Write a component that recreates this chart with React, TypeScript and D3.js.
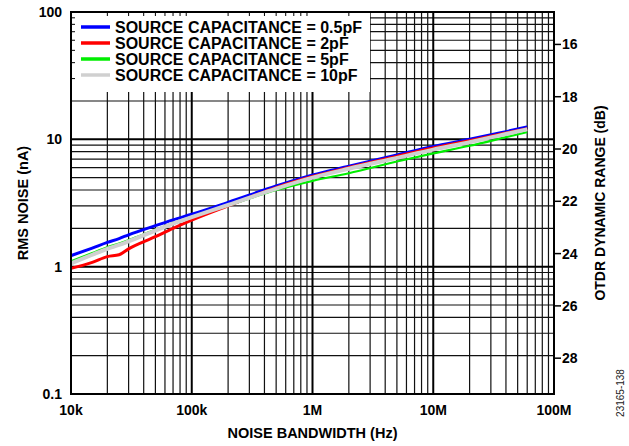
import * as d3 from "d3";

const freqs = [1e4, 1.5e4, 2e4, 2.5e4, 3e4, 5e4, 7e4, 1e5, 2e5, 5e5, 1e6, 2e6, 5e6, 1e7, 2e7, 4e7, 6e7];
const blue = [1.22, 1.4, 1.55, 1.66, 1.78, 2.1, 2.33, 2.58, 3.2, 4.3, 5.25, 6.15, 7.55, 8.8, 10.0, 11.5, 12.5];
const red = [0.97, 1.08, 1.2, 1.24, 1.38, 1.72, 2.0, 2.32, 3.0, 4.18, 5.1, 6.0, 7.35, 8.55, 9.75, 11.2, 12.1];
const green = [1.1, 1.28, 1.42, 1.52, 1.62, 1.95, 2.2, 2.46, 3.02, 4.0, 4.72, 5.42, 6.7, 7.75, 8.9, 10.4, 11.4];
const gray = [1.06, 1.24, 1.38, 1.48, 1.58, 1.92, 2.18, 2.45, 3.05, 4.1, 5.0, 5.88, 7.15, 8.3, 9.5, 11.0, 12.0];

const seriesNames = [
  "SOURCE CAPACITANCE = 0.5pF",
  "SOURCE CAPACITANCE = 2pF",
  "SOURCE CAPACITANCE = 5pF",
  "SOURCE CAPACITANCE = 10pF",
];
const seriesColors = ["#0000ff", "#ff0000", "#00ee00", "#d0d0d0"];
const seriesWidths = [3, 3, 2.2, 4];

const xTicks = [1e4, 1e5, 1e6, 1e7, 1e8];
const xTickLabels = ["10k", "100k", "1M", "10M", "100M"];
const yTicks = [0.1, 1, 10, 100];
const yTickLabels = ["0.1", "1", "10", "100"];
const dbTicks = [16, 18, 20, 22, 24, 26, 28];

const W = 629;
const H = 446;
const left = 71;
const right = 554;
const top = 12;
const bottom = 394;
const font = "'Liberation Sans', Arial, sans-serif";

export default function App() {
  const x = d3.scaleLog().domain([1e4, 1e8]).range([left, right]);
  const y = d3.scaleLog().domain([0.1, 100]).range([bottom, top]);
  const yDb = d3.scaleLinear().domain([14.76, 29.37]).range([top, bottom]);

  const minorX: number[] = [];
  const minorY: number[] = [];
  for (let d = 1e4; d < 1e8; d *= 10) for (let k = 2; k <= 9; k++) minorX.push(d * k);
  for (let d = 0.1; d < 99; d *= 10) for (let k = 2; k <= 9; k++) minorY.push(d * k);

  const line = d3
    .line<number>()
    .x((_, i) => x(freqs[i]))
    .y((v) => y(v))
    .curve(d3.curveMonotoneX);
  const all = [blue, red, green, gray];

  const legTop = 27;
  const legStep = 16;
  const legW = 298;
  const legH = 79;

  return (
    <svg width={W} height={H} style={{ position: "absolute", left: 0, top: 0 }} fontFamily={font}>
      <rect width={W} height={H} fill="#fff" />
      {/* grid */}
      {minorX.map((v) => (
        <line key={"mx" + v} x1={x(v)} x2={x(v)} y1={top} y2={bottom} stroke="#111" strokeWidth={1.2} />
      ))}
      {minorY.map((v) => (
        <line key={"my" + v} x1={left} x2={right} y1={y(v)} y2={y(v)} stroke="#111" strokeWidth={1.2} />
      ))}
      {xTicks.map((v) => (
        <line key={"Mx" + v} x1={x(v)} x2={x(v)} y1={top} y2={bottom} stroke="#000" strokeWidth={2} />
      ))}
      {yTicks.map((v) => (
        <line key={"My" + v} x1={left} x2={right} y1={y(v)} y2={y(v)} stroke="#000" strokeWidth={2} />
      ))}
      {/* legend background */}
      <rect x={left + 1} y={top + 1} width={legW} height={legH} fill="#fff" />
      {minorX
        .filter((v) => x(v) < left + legW)
        .map((v) => (
          <line key={"tx" + v} x1={x(v)} x2={x(v)} y1={top} y2={top + 4} stroke="#000" strokeWidth={1} />
        ))}
      {minorY
        .filter((v) => y(v) < top + legH)
        .map((v) => (
          <line key={"ty" + v} x1={left} x2={left + 4} y1={y(v)} y2={y(v)} stroke="#000" strokeWidth={1} />
        ))}
      {/* curves */}
      {all.map((s, i) => (
        <path
          key={"s" + i}
          d={line(s) ?? ""}
          fill="none"
          stroke={seriesColors[i]}
          strokeWidth={seriesWidths[i]}
          strokeLinejoin="round"
        />
      ))}
      <rect x={left} y={top} width={right - left} height={bottom - top} fill="none" stroke="#000" strokeWidth={2} />
      {/* legend */}
      {seriesNames.map((n, i) => (
        <g key={"l" + i} transform={`translate(0,${legTop + i * legStep})`}>
          <line x1={81} x2={110} y1={0} y2={0} stroke={seriesColors[i]} strokeWidth={3.5} />
          <text x={115} y={6} fontSize={16} fontWeight="bold">
            {n}
          </text>
        </g>
      ))}
      {/* left axis */}
      {yTicks.map((v, i) => (
        <text key={"yl" + v} x={62} y={y(v) + 5} textAnchor="end" fontSize={14} fontWeight="bold">
          {yTickLabels[i]}
        </text>
      ))}
      {/* bottom axis */}
      {xTicks.map((v, i) => (
        <text key={"xl" + v} x={x(v)} y={415} textAnchor="middle" fontSize={14} fontWeight="bold">
          {xTickLabels[i]}
        </text>
      ))}
      {/* right axis */}
      {dbTicks.map((v) => (
        <g key={"db" + v}>
          <line x1={right} x2={right + 7} y1={yDb(v)} y2={yDb(v)} stroke="#000" strokeWidth={1.5} />
          <text x={right + 8} y={yDb(v) + 5} fontSize={14} fontWeight="bold">
            {v}
          </text>
        </g>
      ))}
      <text
        transform={`translate(28,${(top + bottom) / 2}) rotate(-90)`}
        textAnchor="middle"
        fontSize={14.5}
        fontWeight="bold"
      >
        RMS NOISE (nA)
      </text>
      <text x={(left + right) / 2} y={438} textAnchor="middle" fontSize={14.5} fontWeight="bold">
        NOISE BANDWIDTH (Hz)
      </text>
      <text
        transform={`translate(605,203) rotate(-90)`}
        textAnchor="middle"
        fontSize={14}
        fontWeight="bold"
      >
        OTDR DYNAMIC RANGE (dB)
      </text>
      <text transform="translate(624,393) rotate(-90)" textAnchor="middle" fontSize={10} fill="#222">
        23165-138
      </text>
    </svg>
  );
}
